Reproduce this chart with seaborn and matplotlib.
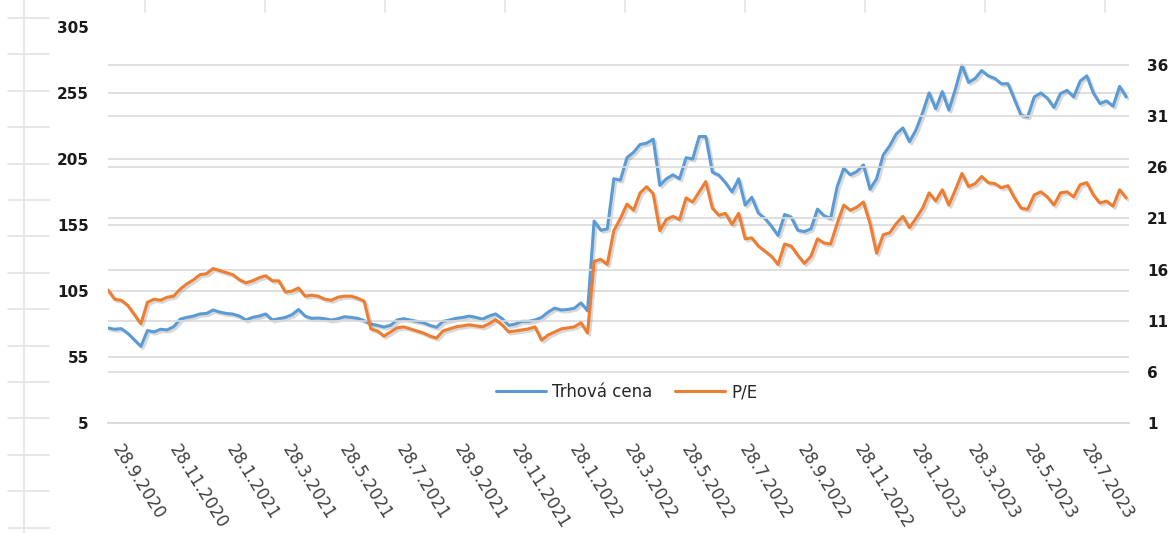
import pandas as pd
import matplotlib
matplotlib.use('Agg')
import matplotlib.pyplot as plt
import matplotlib.patheffects as pe
from matplotlib.lines import Line2D
import seaborn as sns

# weekly readings starting 28.9.2020
start_date = '2020-09-28'

trhova_cena = [
    77, 76, 76.5, 73, 68, 63, 75, 74, 76, 75.5,
    78, 83.7, 85, 86, 87.6, 88, 90.6, 89, 88, 87.5,
    86, 83, 85, 86, 87.6, 83, 84, 85, 87, 91,
    86, 84.3, 84.5, 84, 83, 84, 85.5, 85, 84.3, 82.5,
    80, 79, 77.7, 79, 83, 84, 83, 82, 81, 79,
    77.5, 82, 83, 84.3, 85, 86, 85, 83.7, 86, 87.6,
    84, 79, 80, 82, 82, 83, 85, 89, 92, 90.6,
    91, 92, 96, 90, 158, 151, 152, 190, 189, 206,
    210, 216, 217, 220, 185, 190, 193, 190, 206, 205,
    222, 222, 195, 192.7, 187, 180, 190, 170, 176, 164,
    160, 154, 147, 163, 161, 151, 150, 152, 167, 162,
    160, 184, 198, 193, 195.5, 200.5, 182, 190, 208, 215,
    224, 228.5, 218, 227, 240, 255, 243, 256, 242, 258,
    276, 263, 266, 272, 268, 266, 262, 262, 250, 238,
    237, 252, 255, 251, 244, 254.6, 257, 252, 264, 268,
    255, 247, 249, 245, 260, 252,
]

pe_ratio = [
    14.0, 13.1, 13.0, 12.5, 11.6, 10.7, 12.8, 13.1, 13.0, 13.3,
    13.4, 14.1, 14.6, 15.0, 15.5, 15.6, 16.1, 15.9, 15.7, 15.5,
    15.0, 14.7, 14.9, 15.2, 15.4, 14.9, 14.9, 13.8, 13.9, 14.2,
    13.4, 13.5, 13.4, 13.1, 13.0, 13.3, 13.4, 13.4, 13.2, 12.9,
    10.2, 10.0, 9.5, 9.9, 10.3, 10.4, 10.2, 10.0, 9.8, 9.5,
    9.3, 10.0, 10.2, 10.4, 10.5, 10.6, 10.5, 10.4, 10.7, 11.1,
    10.6, 9.9, 10.0, 10.1, 10.2, 10.4, 9.1, 9.6, 9.9, 10.2,
    10.3, 10.4, 10.8, 9.8, 16.8, 17.0, 16.5, 19.8, 21.0, 22.4,
    21.8, 23.5, 24.1, 23.4, 19.8, 20.9, 21.2, 20.9, 23.0, 22.6,
    23.6, 24.6, 22.0, 21.3, 21.5, 20.4, 21.5, 19.0, 19.1, 18.3,
    17.8, 17.3, 16.5, 18.5, 18.3, 17.4, 16.6, 17.3, 19.0, 18.6,
    18.5, 20.5, 22.3, 21.8, 22.1, 22.6, 20.5, 17.6, 19.4, 19.6,
    20.5, 21.2, 20.1, 21.0, 22.0, 23.5, 22.7, 23.8, 22.3, 23.8,
    25.4, 24.1, 24.4, 25.1, 24.5, 24.4, 24.0, 24.2, 23.0, 22.0,
    21.9, 23.3, 23.6, 23.1, 22.3, 23.5, 23.6, 23.1, 24.3, 24.5,
    23.3, 22.5, 22.7, 22.2, 23.8, 23.0,
]

tick_dates = [
    '2020-09-28', '2020-11-28', '2021-01-28', '2021-03-28', '2021-05-28',
    '2021-07-28', '2021-09-28', '2021-11-28', '2022-01-28', '2022-03-28',
    '2022-05-28', '2022-07-28', '2022-09-28', '2022-11-28', '2023-01-28',
    '2023-03-28', '2023-05-28', '2023-07-28',
]
left_ticks = [5, 55, 105, 155, 205, 255, 305]
right_ticks = [1, 6, 11, 16, 21, 26, 31, 36]

blue = '#5B9BD5'
orange = '#ED7D31'
grid_col = '#D9D9D9'

dates = pd.date_range(start_date, periods=len(trhova_cena), freq='7D')
df = pd.DataFrame({'datum': dates, 'Trhová cena': trhova_cena, 'P/E': pe_ratio})

sns.set_style('white')
plt.rcParams['font.family'] = ['DejaVu Sans']

fig = plt.figure(figsize=(11.73, 5.33), dpi=100)
ax = fig.add_axes([0.0921, 0.2064, 0.8704, 0.7430])
ax2 = ax.twinx()

shadow = [pe.SimpleLineShadow(offset=(1.5, -1.5), shadow_color='gray', alpha=0.3), pe.Normal()]

sns.lineplot(data=df, x='datum', y='Trhová cena', ax=ax, color=blue, linewidth=2.2)
sns.lineplot(data=df, x='datum', y='P/E', ax=ax2, color=orange, linewidth=2.2)
for line in ax.lines + ax2.lines:
    line.set_path_effects(shadow)

ax.set_ylim(5, 305)
ax2.set_ylim(1, 1 + 300 * 35 / 271.2)
ax.set_yticks(left_ticks)
ax2.set_yticks(right_ticks)
ax.set_xlim(pd.Timestamp('2020-09-28'), pd.Timestamp('2023-09-21'))

ticks = pd.to_datetime(tick_dates)
ax.set_xticks(ticks)
ax.set_xticklabels([f'{d.day}.{d.month}.{d.year}' for d in ticks],
                   rotation=-58, ha='left', va='top', rotation_mode='default',
                   fontsize=12, color='#404040')

ax.set_xlabel('')
ax.set_ylabel('')
ax2.set_ylabel('')

for a in (ax, ax2):
    a.grid(axis='y', color=grid_col, linewidth=1.2)
    a.grid(axis='x', visible=False)
    a.set_axisbelow(True)
    for s in a.spines.values():
        s.set_visible(False)
ax.get_ygridlines()[-1].set_visible(False)
ax.spines['bottom'].set_visible(True)
ax.spines['bottom'].set_color(grid_col)
ax.spines['bottom'].set_linewidth(1.3)

ax.tick_params(axis='x', length=4.5, width=1.2, color=grid_col, pad=9)
ax.tick_params(axis='y', length=0, pad=14, labelsize=11, labelcolor='#1a1a1a')
ax2.tick_params(axis='y', length=0, pad=13, labelsize=11, labelcolor='#1a1a1a')
for lab in ax.get_yticklabels() + ax2.get_yticklabels():
    lab.set_fontweight('bold')

handles = [Line2D([], [], color=blue, lw=2.2), Line2D([], [], color=orange, lw=2.2)]
ax2.legend(handles, ['Trhová cena', 'P/E'], loc='center', bbox_to_anchor=(0.508, 0.078),
           ncol=2, frameon=False, fontsize=12, handlelength=3.0, handletextpad=0.35,
           columnspacing=1.4, labelcolor='#262626')

# spreadsheet cell lines around the pasted chart
W, H = 1173, 533
fig.add_artist(Line2D([24 / W, 24 / W], [0, 1], color='#E3E3E3', lw=1.2))
for i in range(15):
    y = 1 - (18 + 36.4 * i) / H
    if y > 0:
        fig.add_artist(Line2D([8 / W, 49 / W], [y, y], color='#E3E3E3', lw=1.2))
for i in range(9):
    x = (145 + 120 * i) / W
    fig.add_artist(Line2D([x, x], [1, 1 - 12 / H], color='#E3E3E3', lw=1.2))

fig.savefig('out.png', dpi=100)
